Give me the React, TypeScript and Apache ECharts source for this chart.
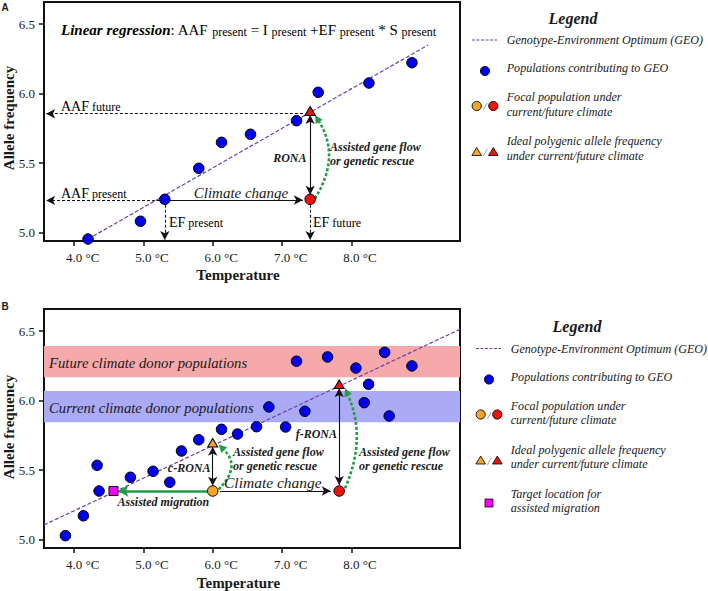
import React, { useEffect, useRef } from 'react';
import * as echarts from 'echarts';

// ---------- axes ----------
const X_MIN = 3.567;
const X_MAX = 9.566;
const Y_MIN = 4.94;
const Y_MAX = 6.66;
const xTicks = [4, 5, 6, 7, 8];
const yTicks = [5.0, 5.5, 6.0, 6.5];

// ---------- panel A data ----------
const popsA = [
  [4.202, 4.954], [4.958, 5.082], [5.309, 5.24], [5.799, 5.463], [6.127, 5.65],
  [6.545, 5.708], [7.209, 5.806], [7.521, 6.01], [8.253, 6.077], [8.873, 6.223],
];
const geoA = [[4.202, 4.954], [9.108, 6.351]];
const focalFutureA = [[7.405, 5.24]];
const idealFutureA = [[7.405, 5.876]];

// annotation arrows, panel A (data coordinates)
const dashedArrowsA = [
  [[7.3, 5.856], [3.598, 5.856]],
  [[5.24, 5.232], [3.598, 5.232]],
  [[5.309, 5.2], [5.309, 4.948]],
  [[7.405, 5.2], [7.405, 4.948]],
];
const solidArrowsA = [[[5.38, 5.235], [7.3, 5.235]]];
const doubleArrowsA = [[[7.405, 5.272], [7.405, 5.846]]];
const greenCurvesA = [[7.474, 5.245, 7.474, 5.847]];

// ---------- panel B data ----------
const popsB = [
  [3.876, 5.029], [4.135, 5.172], [4.333, 5.535], [4.361, 5.35], [4.813, 5.449],
  [5.14, 5.492], [5.381, 5.413], [5.55, 5.638], [5.799, 5.719], [6.127, 5.794],
  [6.358, 5.76], [6.632, 5.813], [6.81, 5.955], [7.051, 5.811], [7.209, 6.284],
  [7.329, 5.924], [7.656, 6.315], [8.065, 6.235], [8.185, 5.986], [8.248, 6.118],
  [8.479, 6.348], [8.545, 5.89], [8.873, 6.25],
];
const geoB = [[3.567, 5.106], [9.566, 6.514]];
const focalCurrentB = [[6.0, 5.35]];
const idealCurrentB = [[6.0, 5.698]];
const focalFutureB = [[7.824, 5.35]];
const idealFutureB = [[7.824, 6.118]];
const targetB = [[4.569, 5.35]];
const futureDonorBand = [6.168, 6.394];
const currentDonorBand = [5.845, 6.07];

const solidArrowsB = [[[6.102, 5.35], [7.702, 5.35]]];
const doubleArrowsB = [
  [[6.0, 5.388], [6.0, 5.669]],
  [[7.824, 5.393], [7.824, 6.089]],
];
const migrationArrowB = [[[5.934, 5.35], [4.64, 5.35]]];
const greenCurvesB1 = [[6.085, 5.362, 6.085, 5.685]];
const greenCurvesB2 = [[7.907, 5.37, 7.907, 6.089]];

// ---------- styles ----------
const SERIF = '"Liberation Serif", "Times New Roman", serif';
const SANS = '"Liberation Sans", Arial, sans-serif';
const BLUE = '#0000ee';
const RED = '#ee1111';
const ORANGE = '#f5a52a';
const MAGENTA = '#ff00ff';
const GREEN = '#1f9e45';
const PURPLE = '#6b3fa8';
const TXT = '#1a1a1a';

function axes(gi: number) {
  return {
    x: {
      type: 'value', gridIndex: gi, min: X_MIN, max: X_MAX,
      axisLine: { show: false }, splitLine: { show: false },
      axisTick: { show: true, customValues: xTicks, length: 5, lineStyle: { color: '#111', width: 1.5 } },
      axisLabel: { show: false },
    },
    y: {
      type: 'value', gridIndex: gi, min: Y_MIN, max: Y_MAX,
      axisLine: { show: false }, splitLine: { show: false },
      axisTick: { show: true, customValues: yTicks, length: 5, lineStyle: { color: '#111', width: 1.5 } },
      axisLabel: {
        customValues: yTicks, margin: 9, color: TXT, fontFamily: SERIF, fontSize: 13,
        formatter: (v: number) => v.toFixed(1),
      },
    },
  };
}

// x tick labels "4.0 °C": the number is centred on its tick, the unit hangs to the right
function xLabelSeries(gi: number) {
  return {
    type: 'custom', xAxisIndex: gi, yAxisIndex: gi, silent: true, clip: false, z: 10,
    data: xTicks.map((v) => [v, Y_MIN]),
    encode: { x: 0, y: 1 },
    renderItem: (_p: any, api: any) => {
      const v = api.value(0);
      const pt = api.coord([v, api.value(1)]);
      return {
        type: 'text', x: pt[0] - 8.1, y: pt[1] + 16,
        style: { text: `${v.toFixed(1)} °C`, font: `13px ${SERIF}`, fill: TXT, align: 'left', verticalAlign: 'middle' },
      };
    },
  };
}

function arrowSeries(gi: number, pairs: number[][][], o: any) {
  return {
    type: 'line', xAxisIndex: gi, yAxisIndex: gi, data: [pairs[0][0]],
    showSymbol: false, symbol: 'none', silent: true, z: o.z ?? 4,
    lineStyle: { opacity: 0 },
    markLine: {
      silent: true, animation: false, symbol: o.symbol, symbolSize: o.symbolSize ?? [7, 9],
      label: { show: false }, emphasis: { disabled: true },
      lineStyle: { color: o.color, width: o.width, type: o.type },
      itemStyle: { color: o.color },
      data: pairs.map(([a, b]) => [{ coord: a }, { coord: b }]),
    },
  };
}

// curved dashed arrow drawn through the axes' own coordinate conversion
function curveSeries(gi: number, data: number[][], curveness: number) {
  return {
    type: 'custom', xAxisIndex: gi, yAxisIndex: gi, data, silent: true, z: 4,
    encode: { x: [0, 2], y: [1, 3] },
    renderItem: (_p: any, api: any) => {
      const p1 = api.coord([api.value(0), api.value(1)]);
      const p2 = api.coord([api.value(2), api.value(3)]);
      const cp = [
        (p1[0] + p2[0]) / 2 - (p1[1] - p2[1]) * curveness,
        (p1[1] + p2[1]) / 2 - (p2[0] - p1[0]) * curveness,
      ];
      const dx = p2[0] - cp[0];
      const dy = p2[1] - cp[1];
      const len = Math.sqrt(dx * dx + dy * dy) || 1;
      const ux = dx / len;
      const uy = dy / len;
      const head = 8;
      const half = 4;
      const bx = p2[0] - ux * head;
      const by = p2[1] - uy * head;
      return {
        type: 'group',
        children: [
          {
            type: 'bezierCurve',
            shape: { x1: p1[0], y1: p1[1], x2: bx, y2: by, cpx1: cp[0], cpy1: cp[1] },
            style: { stroke: GREEN, lineWidth: 2.6, lineDash: [3, 2], fill: null },
          },
          {
            type: 'polygon',
            shape: { points: [[p2[0], p2[1]], [bx - uy * half, by + ux * half], [bx + uy * half, by - ux * half]] },
            style: { fill: GREEN },
          },
        ],
      };
    },
  };
}

function scatter(gi: number, data: number[][], symbol: string, size: any, color: string, z = 6) {
  return {
    type: 'scatter', xAxisIndex: gi, yAxisIndex: gi, data, symbol, symbolSize: size, z,
    itemStyle: { color, borderColor: '#000', borderWidth: 1, opacity: 1 },
    silent: true,
  };
}

function txt(x: number, y: number, text: string, font: string, align = 'left', extra: any = {}) {
  return {
    type: 'text', x, y, silent: true, z: 20,
    style: { text, font, fill: TXT, align, verticalAlign: 'middle', ...extra },
  };
}

const richSub = {
  a: { fontFamily: SERIF, fontSize: 14, color: TXT, verticalAlign: 'bottom' },
  s: { fontFamily: SERIF, fontSize: 12, color: TXT, verticalAlign: 'bottom' },
};

function legend(ox: number, oy: number, withTarget: boolean) {
  const it = `italic 12.1px ${SERIF}`;
  const els: any[] = [
    txt(ox + 113, oy + 18, 'Legend', `italic bold 16px ${SERIF}`, 'center'),
    { type: 'line', silent: true, shape: { x1: ox + 12, y1: oy + 40, x2: ox + 37, y2: oy + 40 }, style: { stroke: PURPLE, lineWidth: 1.2, lineDash: [3, 1.5] } },
    txt(ox + 46.7, oy + 40, 'Genotype-Environment Optimum (GEO)', it),
    { type: 'circle', silent: true, shape: { cx: ox + 25, cy: oy + 71, r: 4.6 }, style: { fill: BLUE, stroke: '#000', lineWidth: 0.9 } },
    txt(ox + 46.7, oy + 68, 'Populations contributing to GEO', it),
    { type: 'circle', silent: true, shape: { cx: ox + 16.7, cy: oy + 106, r: 4.6 }, style: { fill: ORANGE, stroke: '#000', lineWidth: 0.9 } },
    txt(ox + 25, oy + 106, '/', `italic 11px ${SERIF}`, 'center', { fill: '#666' }),
    { type: 'circle', silent: true, shape: { cx: ox + 33.3, cy: oy + 106, r: 4.6 }, style: { fill: RED, stroke: '#000', lineWidth: 0.9 } },
    txt(ox + 46.7, oy + 97, 'Focal population under', it),
    txt(ox + 46.7, oy + 111.5, 'current/future climate', it),
    { type: 'polygon', silent: true, shape: { points: [[ox + 16.7, oy + 147.5], [ox + 21.5, oy + 155.5], [ox + 11.9, oy + 155.5]] }, style: { fill: ORANGE, stroke: '#000', lineWidth: 0.8 } },
    txt(ox + 25, oy + 152, '/', `italic 11px ${SERIF}`, 'center', { fill: '#666' }),
    { type: 'polygon', silent: true, shape: { points: [[ox + 33.3, oy + 147.5], [ox + 38.1, oy + 155.5], [ox + 28.5, oy + 155.5]] }, style: { fill: RED, stroke: '#000', lineWidth: 0.8 } },
    txt(ox + 46.7, oy + 141, 'Ideal polygenic allele frequency', it),
    txt(ox + 46.7, oy + 155.5, 'under current/future climate', it),
  ];
  if (withTarget) {
    els.push(
      { type: 'rect', silent: true, shape: { x: ox + 25 - 4, y: oy + 194.5 - 4, width: 8, height: 8 }, style: { fill: MAGENTA, stroke: '#000', lineWidth: 0.8 } },
      txt(ox + 46.7, oy + 185, 'Target location for', it),
      txt(ox + 46.7, oy + 199.5, 'assisted migration', it),
    );
  }
  return els;
}

export default function App() {
  const ref = useRef<HTMLDivElement>(null);
  useEffect(() => {
    if (!ref.current) return;
    const chart = echarts.init(ref.current, undefined, { renderer: 'svg' });
    const a = axes(0);
    const b = axes(1);
    const bi = `italic bold 12px ${SERIF}`;
    const option: any = {
      animation: false,
      backgroundColor: '#ffffff',
      grid: [
        { left: 44, top: 2, width: 416, height: 239, show: true, borderColor: '#111', borderWidth: 2, backgroundColor: 'transparent', containLabel: false },
        { left: 44, top: 309, width: 416, height: 239, show: true, borderColor: '#111', borderWidth: 2, backgroundColor: 'transparent', containLabel: false },
      ],
      xAxis: [a.x, b.x],
      yAxis: [a.y, b.y],
      series: [
        // ---- panel A ----
        { type: 'line', xAxisIndex: 0, yAxisIndex: 0, data: geoA, showSymbol: false, symbol: 'none', silent: true, z: 3,
          lineStyle: { color: PURPLE, width: 1.2, type: [4, 2] } },
        arrowSeries(0, dashedArrowsA, { symbol: ['none', 'arrow'], color: '#111', width: 1.1, type: [3, 2] }),
        arrowSeries(0, solidArrowsA, { symbol: ['none', 'arrow'], color: '#111', width: 1.1, type: 'solid' }),
        arrowSeries(0, doubleArrowsA, { symbol: ['arrow', 'arrow'], color: '#111', width: 1.1, type: 'solid' }),
        curveSeries(0, greenCurvesA, -0.31),
        scatter(0, popsA, 'circle', 10.5, BLUE),
        scatter(0, focalFutureA, 'circle', 10.5, RED),
        scatter(0, idealFutureA, 'triangle', [10.5, 9], RED),
        xLabelSeries(0),
        // ---- panel B ----
        { type: 'line', xAxisIndex: 1, yAxisIndex: 1, data: [geoB[0]], showSymbol: false, symbol: 'none', silent: true, z: 1,
          lineStyle: { opacity: 0 },
          markArea: {
            silent: true,
            data: [
              [{ yAxis: futureDonorBand[0], itemStyle: { color: '#f6a9aa' } }, { yAxis: futureDonorBand[1] }],
              [{ yAxis: currentDonorBand[0], itemStyle: { color: '#aaaaf5' } }, { yAxis: currentDonorBand[1] }],
            ],
          } },
        { type: 'line', xAxisIndex: 1, yAxisIndex: 1, data: geoB, showSymbol: false, symbol: 'none', silent: true, z: 3,
          lineStyle: { color: PURPLE, width: 1.2, type: [4, 2] } },
        arrowSeries(1, solidArrowsB, { symbol: ['none', 'arrow'], color: '#111', width: 1.1, type: 'solid' }),
        arrowSeries(1, doubleArrowsB, { symbol: ['arrow', 'arrow'], color: '#111', width: 1.1, type: 'solid' }),
        arrowSeries(1, migrationArrowB, { symbol: ['none', 'arrow'], color: GREEN, width: 2.6, type: 'solid', symbolSize: [9, 10] }),
        curveSeries(1, greenCurvesB1, -0.5),
        curveSeries(1, greenCurvesB2, -0.22),
        scatter(1, popsB, 'circle', 10.5, BLUE),
        scatter(1, focalCurrentB, 'circle', 10.5, ORANGE),
        scatter(1, focalFutureB, 'circle', 10.5, RED),
        scatter(1, idealCurrentB, 'triangle', [10, 8.5], ORANGE),
        scatter(1, idealFutureB, 'triangle', [10, 8.5], RED),
        scatter(1, targetB, 'rect', 9, MAGENTA),
        xLabelSeries(1),
      ],
      graphic: [
        // panel letters
        txt(1.5, 7, 'A', `bold 10px ${SANS}`),
        txt(1.5, 306, 'B', `bold 10px ${SANS}`),
        // axis titles
        { type: 'text', x: 9, y: 118, rotation: Math.PI / 2, silent: true,
          style: { text: 'Allele frequency', font: `bold 15px ${SERIF}`, fill: TXT, align: 'center', verticalAlign: 'middle' } },
        { type: 'text', x: 9, y: 427, rotation: Math.PI / 2, silent: true,
          style: { text: 'Allele frequency', font: `bold 15px ${SERIF}`, fill: TXT, align: 'center', verticalAlign: 'middle' } },
        txt(238, 275, 'Temperature', `bold 15px ${SERIF}`, 'center'),
        txt(238.5, 583, 'Temperature', `bold 15px ${SERIF}`, 'center'),
        // panel A annotations
        {
          type: 'text', x: 61, y: 30, silent: true, z: 20,
          style: {
            text: '{b|Linear regression}{n|: AAF }{s|present}{n| = I }{s|present}{n| +EF }{s|present}{n| * S }{s|present}',
            align: 'left', verticalAlign: 'middle',
            rich: {
              b: { fontFamily: SERIF, fontSize: 15, fontWeight: 'bold', fontStyle: 'italic', color: TXT, verticalAlign: 'bottom' },
              n: { fontFamily: SERIF, fontSize: 15, color: TXT, verticalAlign: 'bottom' },
              s: { fontFamily: SERIF, fontSize: 12, color: TXT, verticalAlign: 'bottom' },
            },
          },
        },
        { type: 'text', x: 61, y: 106, silent: true, z: 20, style: { text: '{a|AAF}{s| future}', rich: richSub, align: 'left', verticalAlign: 'middle' } },
        { type: 'text', x: 61, y: 193, silent: true, z: 20, style: { text: '{a|AAF}{s| present}', rich: richSub, align: 'left', verticalAlign: 'middle' } },
        { type: 'text', x: 169, y: 222, silent: true, z: 20, style: { text: '{a|EF}{s| present}', rich: richSub, align: 'left', verticalAlign: 'middle' } },
        { type: 'text', x: 313, y: 222, silent: true, z: 20, style: { text: '{a|EF}{s| future}', rich: richSub, align: 'left', verticalAlign: 'middle' } },
        txt(241, 192.5, 'Climate change', `italic 15px ${SERIF}`, 'center'),
        txt(306.5, 158, 'RONA', bi, 'right'),
        txt(330, 147, 'Assisted gene flow', bi),
        txt(330, 161, 'or genetic rescue', bi),
        // panel B annotations
        txt(49, 363, 'Future climate donor populations', `italic 14.7px ${SERIF}`),
        txt(49, 408, 'Current climate donor populations', `italic 14.7px ${SERIF}`),
        txt(337, 434, 'f-RONA', bi, 'right'),
        txt(210.5, 468, 'c-RONA', bi, 'right'),
        txt(233, 452, 'Assisted gene flow', bi),
        txt(233, 466, 'or genetic rescue', bi),
        txt(359, 452, 'Assisted gene flow', bi),
        txt(359, 466, 'or genetic rescue', bi),
        txt(224, 482, 'Climate change', `italic 15.5px ${SERIF}`),
        txt(117.5, 502, 'Assisted migration', bi),
        // legends
        ...legend(460, 0, false),
        ...legend(464, 308.5, true),
      ],
    };
    chart.setOption(option);
    return () => chart.dispose();
  }, []);
  return (
    <div
      ref={ref}
      style={{ position: 'fixed', left: 0, top: 0, width: 708, height: 591, background: '#fff' }}
    />
  );
}
